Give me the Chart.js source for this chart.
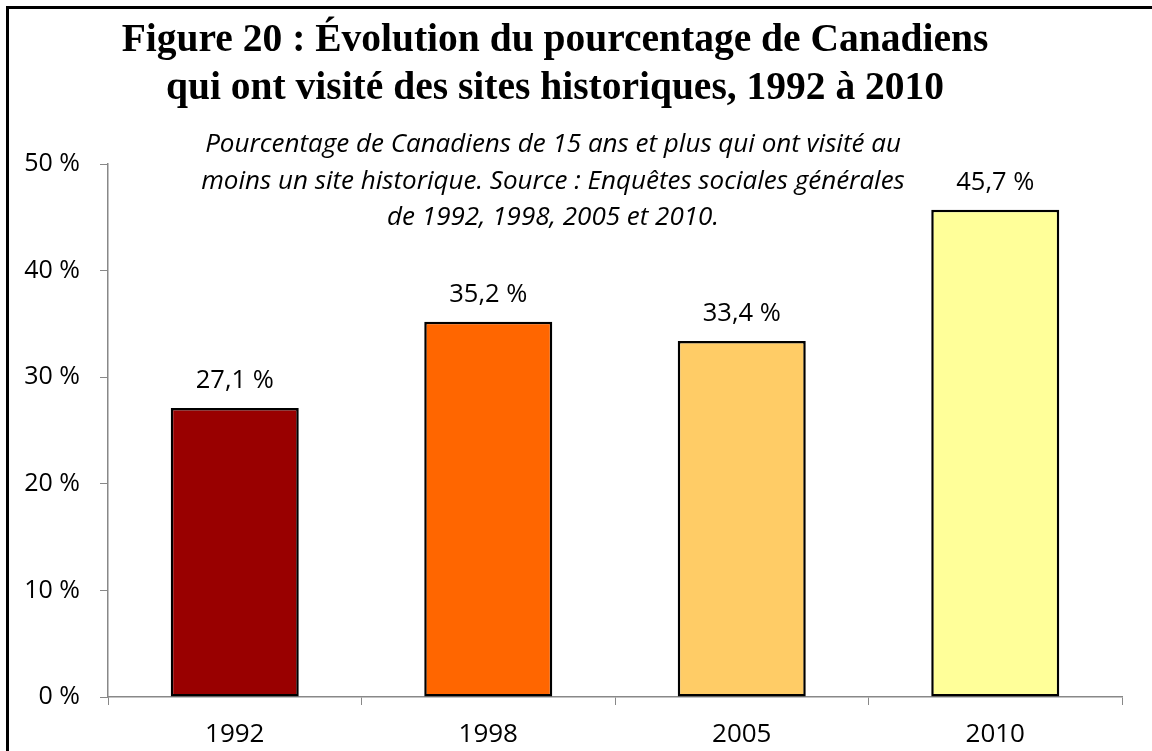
<!DOCTYPE html>
<html>
<head>
<meta charset="utf-8">
<script src="https://cdn.jsdelivr.net/npm/chart.js@4/dist/chart.umd.min.js"></script>
<style>
html,body{margin:0;padding:0;background:#fff;}
#wrap{position:relative;width:1152px;height:751px;}
</style>
</head>
<body>
<div id="wrap"><canvas id="c" width="1152" height="751"></canvas></div>
<script>
const categories = ['1992', '1998', '2005', '2010'];
const values = [27.1, 35.2, 33.4, 45.7];
const barColors = ['#990000', '#FF6600', '#FFCC66', '#FFFF99'];
const titleLines = ['Figure 20 : Évolution du pourcentage de Canadiens', 'qui ont visité des sites historiques, 1992 à 2010'];
const subtitleLines = ['Pourcentage de Canadiens de 15 ans et plus qui ont visité au', 'moins un site historique. Source : Enquêtes sociales générales', 'de 1992, 1998, 2005 et 2010.'];
const yTickValues = [0, 10, 20, 30, 40, 50];

const fmt = v => v.toFixed(1).replace('.', ',') + ' %';

const decor = {
  id: 'decor',
  beforeDraw(chart) {
    const ctx = chart.ctx;
    ctx.save();
    ctx.fillStyle = '#fff';
    ctx.fillRect(0, 0, chart.width, chart.height);
    ctx.strokeStyle = '#000';
    ctx.lineWidth = 3;
    ctx.beginPath();
    ctx.moveTo(7.5, chart.height);
    ctx.lineTo(7.5, 7.5);
    ctx.lineTo(chart.width, 7.5);
    ctx.stroke();
    ctx.restore();
  },
  afterDraw(chart) {
    const ctx = chart.ctx;
    ctx.save();
    ctx.fillStyle = '#000';
    ctx.textAlign = 'center';
    ctx.textBaseline = 'alphabetic';
    ctx.font = 'bold 39.5px "Liberation Serif"';
    titleLines.forEach((t, i) => ctx.fillText(t, 555, 51 + i * 48));
    ctx.font = 'italic 26px "Open Sans"';
    subtitleLines.forEach((t, i) => ctx.fillText(t, 553, 152 + i * 36.5));
    // data labels
    const meta = chart.getDatasetMeta(0);
    ctx.font = '25.5px "Open Sans"';
    ctx.textBaseline = 'middle';
    meta.data.forEach((bar, i) => {
      ctx.fillText(fmt(values[i]), bar.x, bar.y - 27);
    });
    ctx.restore();
  }
};

new Chart(document.getElementById('c'), {
  type: 'bar',
  data: {
    labels: categories,
    datasets: [{
      data: values,
      backgroundColor: barColors,
      borderColor: '#000',
      borderWidth: 2.5,
      borderSkipped: false,
      barPercentage: 0.505,
      categoryPercentage: 1
    }]
  },
  options: {
    responsive: false,
    animation: false,
    devicePixelRatio: 1,
    layout: { padding: { top: 164, right: 30, left: 0, bottom: 0 } },
    plugins: { legend: { display: false }, tooltip: { enabled: false } },
    scales: {
      x: {
        grid: { display: true, drawOnChartArea: false, drawTicks: true, tickLength: 8, color: '#888', offset: true },
        border: { display: true, color: '#888', width: 1.5 },
        ticks: { color: '#000', font: { family: 'Open Sans', size: 26 }, padding: 14 },
        afterFit(s) { s.height = 54; }
      },
      y: {
        min: 0, max: 50,
        afterBuildTicks(s) { s.ticks = yTickValues.map(v => ({ value: v })); },
        grid: { display: true, drawOnChartArea: false, drawTicks: true, tickLength: 8, color: '#888' },
        border: { display: true, color: '#888', width: 1.5 },
        ticks: { color: '#000', font: { family: 'Open Sans', size: 25 }, padding: 20, callback: v => v + ' %' },
        afterFit(s) { s.width = 108; }
      }
    }
  },
  plugins: [decor]
});
</script>
</body>
</html>
